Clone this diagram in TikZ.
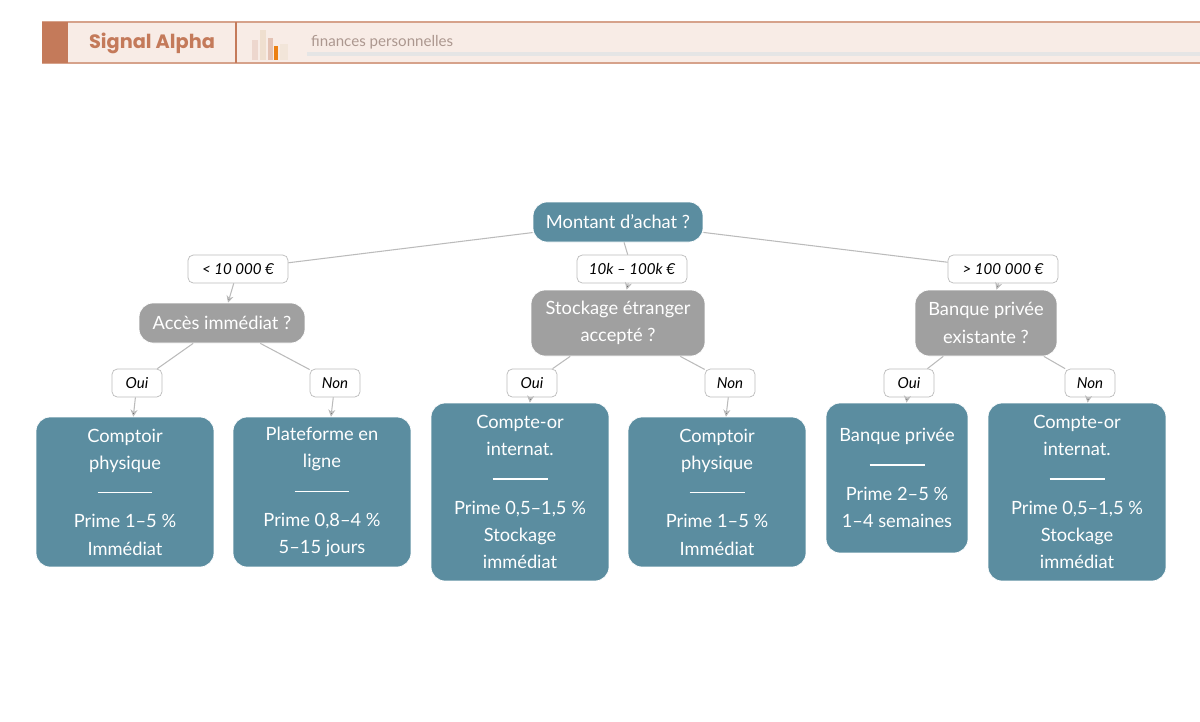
\documentclass[tikz,border=0pt]{standalone}
\usepackage{fontspec}
\setmainfont{Lato}
\newfontfamily\headfont{Poppins}
\usetikzlibrary{positioning,arrows.meta}
\definecolor{leafblue}{HTML}{5B8DA0}
\definecolor{qgrey}{HTML}{A0A0A0}
\definecolor{linegrey}{HTML}{BBBBBB}
\definecolor{rust}{HTML}{C47A5A}
\definecolor{cream}{HTML}{F8ECE6}
\tikzstyle{question}=[
	draw=white,
	fill=qgrey,
	rounded corners=8pt,
	text=white,
	align=center,
	inner sep=0pt,
	font=\fontsize{10.4}{15.6}\selectfont
]
\tikzstyle{leaf}=[question,fill=leafblue,minimum width=3.56cm]
\tikzstyle{cond}=[
	draw=linegrey,
	fill=white,
	rounded corners=3pt,
	minimum height=0.56cm,
	inner sep=0pt,
	font=\fontsize{8.6}{9}\selectfont\itshape
]
\tikzstyle{link} = [draw=linegrey,line width=0.6pt]
\tikzstyle{arrow} = [link,-{Stealth[length=4pt,width=4pt]}]
\newcommand{\sep}{\\[1pt]\rule[3pt]{1.1cm}{0.7pt}\\[1pt]}

\begin{document}
\begin{tikzpicture}[x=0.02cm,y=-0.02cm]
			\useasboundingbox (0,0) rectangle (1200,721);

			% header band
			\fill[cream] (42,22) rectangle (1200,63);
			\draw[rust!70,line width=0.6pt] (42,22) -- (1200,22) (42,63) -- (1200,63);
			\fill[rust] (42,22) rectangle (68,63);
			\draw[rust,line width=0.6pt] (236,22) -- (236,63);
			\node[text=rust,font=\headfont\fontsize{11}{12}\selectfont\bfseries] (brand) at (152,43) {Signal Alpha};
			\fill[rust!30] (252,40) rectangle (258,60);
			\fill[brown!25] (260,30) rectangle (266,60);
			\fill[rust!45] (268,38) rectangle (273,60);
			\fill[orange!70!brown] (274,46) rectangle (278,60);
			\fill[brown!20] (280,44) rectangle (288,60);
			\fill[black!10] (307,52) rectangle (1200,56);
			\node[anchor=west,text=rust!35!gray!80,font=\fontsize{8.6}{9}\selectfont] (tag) at (305,42) {finances personnelles};

			% tree
			\node[question,fill=leafblue,minimum width=3.4cm,minimum height=0.8cm] (root) at (618,222) {Montant d'achat ?};

			\node[cond,minimum width=2cm]	(c1) at (238,269) {< 10 000 €};
			\node[cond,minimum width=2.2cm]	(c2) at (632,269) {10k – 100k €};
			\node[cond,minimum width=2.2cm]	(c3) at (1003,269) {> 100 000 €};

			\node[question,minimum width=3.32cm,minimum height=0.8cm] (q1) at (222,323) {Accès immédiat ?};
			\node[question,minimum width=3.48cm,minimum height=1.32cm] (q2) at (618,323) {Stockage étranger\\accepté ?};
			\node[question,minimum width=2.84cm,minimum height=1.32cm] (q3) at (986,323) {Banque privée\\existante ?};

			\node[cond,minimum width=1cm] (o1) at (137,383) {Oui};
			\node[cond,minimum width=1cm] (n1) at (335,383) {Non};
			\node[cond,minimum width=1cm] (o2) at (532,383) {Oui};
			\node[cond,minimum width=1cm] (n2) at (730,383) {Non};
			\node[cond,minimum width=1cm] (o3) at (909,383) {Oui};
			\node[cond,minimum width=1cm] (n3) at (1090,383) {Non};

			\node[leaf,minimum height=3cm] (f1) at (125,492) {Comptoir\\physique\sep Prime 1–5 \%\\Immédiat};
			\node[leaf,minimum height=3cm] (f2) at (322,492) {Plateforme en\\ligne\sep Prime 0,8–4 \%\\5–15 jours};
			\node[leaf,minimum height=3.56cm] (f3) at (520,492) {Compte-or\\internat.\sep Prime 0,5–1,5 \%\\Stockage\\immédiat};
			\node[leaf,minimum height=3cm] (f4) at (717,492) {Comptoir\\physique\sep Prime 1–5 \%\\Immédiat};
			\node[leaf,minimum width=2.84cm,minimum height=3cm] (f5) at (897,478) {Banque privée\sep Prime 2–5 \%\\1–4 semaines};
			\node[leaf,minimum height=3.56cm] (f6) at (1077,492) {Compte-or\\internat.\sep Prime 0,5–1,5 \%\\Stockage\\immédiat};

			\path[link]
			(root) -- (c1)
			(root) -- (c2)
			(root) -- (c3)
			(q1) -- (o1)
			(q1) -- (n1)
			(q2) -- (o2)
			(q2) -- (n2)
			(q3) -- (o3)
			(q3) -- (n3);

			\path[arrow]
			(c1) edge (q1)
			(c2) edge (q2)
			(c3) edge (q3)
			(o1) edge (f1)
			(n1) edge (f2)
			(o2) edge (f3)
			(n2) edge (f4)
			(o3) edge (f5)
			(n3) edge (f6);

			\end{tikzpicture}
\end{document}
